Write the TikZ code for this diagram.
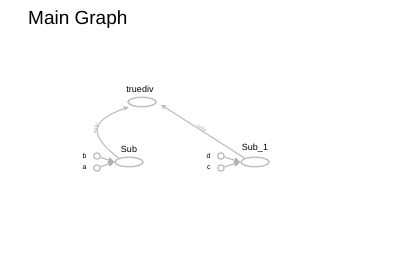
\documentclass[tikz,border=0pt]{standalone}
\usepackage{fontspec}
\setmainfont{Liberation Sans}
\usetikzlibrary{positioning, arrows.meta, shapes.geometric}

\begin{document}
\begin{tikzpicture}[
    x=1pt, y=1pt,
    opnode/.style={ellipse, draw=gray!50, line width=1.4pt, minimum width=28pt, minimum height=9.5pt, inner sep=0pt},
    oplabel/.style={font=\fontsize{9}{10}\selectfont, inner sep=1pt},
    inputnode/.style={circle, draw=gray!55, line width=1.1pt, minimum size=6.5pt, inner sep=0pt},
    inputlabel/.style={font=\fontsize{7}{8}\selectfont, inner sep=0.5pt},
    inarrow/.style={-{Triangle[length=6pt, width=5.5pt]}, gray!60, line width=1pt},
    edge/.style={-{Stealth[length=5.5pt, width=5pt]}, gray!55, line width=1pt, shorten >=3pt},
    edgelabel/.style={font=\fontsize{4}{4}\selectfont, text=gray!80, sloped, inner sep=0.5pt},
]
\useasboundingbox (0,0) rectangle (400,275);

% Title
\node[anchor=west, font=\fontsize{19}{22}\selectfont, inner sep=0pt] (title) at (28,255) {Main Graph};

% Op nodes
\node[opnode] (truediv) at (142,173) {};
\node[opnode] (sub) at (129,113) {};
\node[opnode] (sub1) at (255,113) {};

\node[oplabel, above=3pt of truediv, xshift=-2pt] (truedivlabel) {truediv};
\node[oplabel, above=3pt of sub] (sublabel) {Sub};
\node[oplabel, above=3pt of sub1] (sub1label) {Sub\_1};

% Inputs
\node[inputnode] (b) at (97,119) {};
\node[inputnode] (a) at (97,107) {};
\node[inputnode] (d) at (221,119) {};
\node[inputnode] (c) at (221,107) {};

\node[inputlabel, left=6pt of b] (blabel) {b};
\node[inputlabel, left=6pt of a] (alabel) {a};
\node[inputlabel, left=6pt of d] (dlabel) {d};
\node[inputlabel, left=6pt of c] (clabel) {c};

\draw[inarrow] (b) -- (sub.west);
\draw[inarrow] (a) -- (sub.west);
\draw[inarrow] (d) -- (sub1.west);
\draw[inarrow] (c) -- (sub1.west);

% Dataflow edges
\draw[edge] (sub.north west) to[out=142, in=200, out distance=38pt, in distance=45pt]
    node[edgelabel, pos=0.5, above] {scalar} (truediv.200);
\draw[edge, shorten >=5pt] (sub1.north west) -- node[edgelabel, above] {scalar} (truediv.east);

\end{tikzpicture}
\end{document}
